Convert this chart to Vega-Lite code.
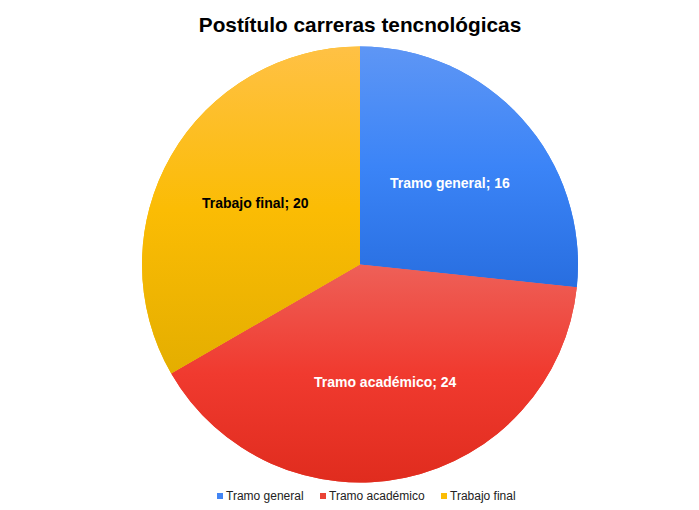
{
  "$schema": "https://vega.github.io/schema/vega-lite/v6.json",
  "width": 678,
  "height": 449,
  "autosize": "none",
  "padding": {"left": 21, "top": 40, "right": 0, "bottom": 21},
  "background": "white",
  "title": {
    "text": "Postítulo carreras tencnológicas",
    "font": "Liberation Sans",
    "fontSize": 20.8,
    "fontWeight": "bold",
    "color": "#000000",
    "anchor": "middle",
    "offset": 3
  },
  "config": {"view": {"stroke": null}},
  "data": {
    "values": [
      {"categoria": "Tramo general", "valor": 16, "orden": 1, "etiqueta": "Tramo general; 16"},
      {"categoria": "Tramo académico", "valor": 24, "orden": 2, "etiqueta": "Tramo académico; 24"},
      {"categoria": "Trabajo final", "valor": 20, "orden": 3, "etiqueta": "Trabajo final; 20"}
    ]
  },
  "encoding": {
    "theta": {"field": "valor", "type": "quantitative", "stack": true},
    "order": {"field": "orden", "type": "quantitative"}
  },
  "layer": [
    {
      "mark": {"type": "arc", "outerRadius": 218, "stroke": null},
      "encoding": {
        "color": {
          "field": "categoria",
          "type": "nominal",
          "sort": ["Tramo general", "Tramo académico", "Trabajo final"],
          "scale": {
            "domain": ["Tramo general", "Tramo académico", "Trabajo final"],
            "range": ["#4285F4", "#EA4335", "#FBBC04"]
          },
          "legend": {
            "title": null,
            "orient": "none",
            "legendX": 193,
            "legendY": 450,
            "direction": "horizontal",
            "symbolType": "square",
            "symbolSize": 36,
            "symbolStrokeWidth": 0,
            "labelFont": "Liberation Sans",
            "labelFontSize": 12,
            "labelColor": "#222222",
            "columnPadding": 13,
            "symbolOffset": 0,
            "labelOffset": 0
          }
        }
      }
    },
    {
      "mark": {"type": "arc", "outerRadius": 218, "stroke": null},
      "encoding": {
        "fill": {
          "condition": [
            {
              "test": "datum.categoria === 'Tramo general'",
              "value": {"gradient": "linear", "x1": 0, "y1": 0, "x2": 0, "y2": 1,
                "stops": [{"offset": 0, "color": "#5E96F5"}, {"offset": 0.5, "color": "#3B84F7"}, {"offset": 1, "color": "#286EE0"}]}
            },
            {
              "test": "datum.categoria === 'Tramo académico'",
              "value": {"gradient": "linear", "x1": 0, "y1": 0, "x2": 0, "y2": 1,
                "stops": [{"offset": 0, "color": "#EE6058"}, {"offset": 0.5, "color": "#F03A2F"}, {"offset": 1, "color": "#E02C1E"}]}
            }
          ],
          "value": {"gradient": "linear", "x1": 0, "y1": 0, "x2": 0, "y2": 1,
            "stops": [{"offset": 0, "color": "#FFC145"}, {"offset": 0.5, "color": "#FBBC04"}, {"offset": 1, "color": "#E4AE00"}]}
        }
      }
    },
    {
      "mark": {"type": "text", "radius": 121, "font": "Liberation Sans", "fontSize": 14, "fontWeight": "bold"},
      "encoding": {
        "text": {"field": "etiqueta", "type": "nominal"},
        "color": {
          "condition": {"test": "datum.categoria === 'Trabajo final'", "value": "#000000"},
          "value": "#FFFFFF"
        }
      }
    }
  ]
}
